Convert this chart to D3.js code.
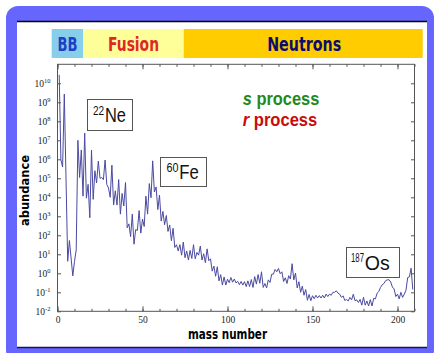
<!DOCTYPE html>
<html>
<head>
<meta charset="utf-8">
<script src="https://cdn.jsdelivr.net/npm/d3@7"></script>
<style>
  html, body { margin: 0; padding: 0; background: #fff; }
  svg { display: block; }
</style>
</head>
<body>
<svg id="chart" width="435" height="353"></svg>
<script>
// Solar-system abundance per mass number (normalised to Si = 1e6)
const massNumber = [
  1, 2, 3, 4, 6, 7, 9, 10, 11, 12, 13, 14, 15, 16, 17, 18, 19, 20,
  21, 22, 23, 24, 25, 26, 27, 28, 29, 30, 31, 32, 33, 34, 35, 36, 37, 38, 39, 40,
  41, 42, 43, 44, 45, 46, 47, 48, 49, 50, 51, 52, 53, 54, 55, 56, 57, 58, 59, 60,
  61, 62, 63, 64, 65, 66, 67, 68, 69, 70, 71, 72, 73, 74, 75, 76, 77, 78, 79, 80,
  81, 82, 83, 84, 85, 86, 87, 88, 89, 90, 91, 92, 93, 94, 95, 96, 97, 98, 99, 100,
  101, 102, 103, 104, 105, 106, 107, 108, 109, 110, 111, 112, 113, 114, 115, 116, 117, 118, 119, 120,
  121, 122, 123, 124, 125, 126, 127, 128, 129, 130, 131, 132, 133, 134, 135, 136, 137, 138, 139, 140,
  141, 142, 143, 144, 145, 146, 147, 148, 149, 150, 151, 152, 153, 154, 155, 156, 157, 158, 159, 160,
  161, 162, 163, 164, 165, 166, 167, 168, 169, 170, 171, 172, 173, 174, 175, 176, 177, 178, 179, 180,
  181, 182, 183, 184, 185, 186, 187, 188, 189, 190, 191, 192, 193, 194, 195, 196, 197, 198, 199, 200,
  201, 202, 203, 204, 205, 206, 207, 208, 209
];
const abundance = [
  2.79e10, 9.5e5, 3.9e5, 2.72e9, 4.3, 53, 0.73, 4.2, 17, 1.0e7, 1.1e5, 3.1e6, 1.15e4, 2.4e7, 9.0e3, 4.8e4, 840, 3.1e6,
  7.8e3, 2.5e5, 5.7e4, 8.0e5, 1.0e5, 1.1e5, 8.5e4, 9.2e5, 4.7e4, 3.1e4, 1.0e4, 4.9e5, 3.9e3, 2.2e4, 3.9e3, 8.6e4, 1.3e3, 1.6e4, 3.5e3, 6.0e4,
  250, 400, 85, 1.3e3, 34, 200, 180, 2.0e3, 130, 720, 290, 1.15e4, 1.3e3, 5.3e4, 9.5e3, 8.3e5, 1.9e4, 3.5e4, 2.25e3, 1.3e4,
  560, 1.8e3, 360, 1.1e3, 160, 350, 52, 235, 23, 32, 15, 32, 9, 44, 6.6, 15, 5, 16, 6, 32,
  5.8, 12.5, 9, 27, 5, 10.7, 3.6, 19.3, 4.6, 5.8, 1.3, 2.4, 0.7, 2.2, 0.4, 0.85, 0.24, 0.64, 0.24, 0.49,
  0.32, 0.6, 0.34, 0.5, 0.31, 0.38, 0.25, 0.37, 0.24, 0.36, 0.2, 0.4, 0.2, 0.47, 0.18, 0.67, 0.27, 0.86, 0.3, 1.2,
  0.18, 0.29, 0.17, 0.45, 0.33, 0.89, 0.9, 1.6, 1.2, 1.8, 0.95, 1.2, 0.37, 0.58, 0.29, 0.75, 0.5, 3.2, 0.45, 1.03,
  0.17, 0.36, 0.1, 0.21, 0.07, 0.14, 0.038, 0.077, 0.036, 0.066, 0.046, 0.07, 0.05, 0.067, 0.05, 0.07, 0.05, 0.08, 0.06, 0.08,
  0.07, 0.1, 0.1, 0.12, 0.09, 0.08, 0.054, 0.065, 0.037, 0.042, 0.035, 0.054, 0.04, 0.079, 0.036, 0.04, 0.029, 0.042, 0.021, 0.055,
  0.021, 0.035, 0.019, 0.041, 0.019, 0.048, 0.045, 0.09, 0.11, 0.18, 0.25, 0.29, 0.41, 0.45, 0.46, 0.35, 0.19, 0.15, 0.06, 0.08,
  0.045, 0.1, 0.054, 0.08, 0.13, 0.6, 0.65, 1.85, 0.14
];

const xMajorTicks = [0, 50, 100, 150, 200];
const xMinorTicks = d3.range(0, 211, 10);
const yTickExponents = d3.range(-2, 11);

const stageNames = ["BB", "Fusion", "Neutrons"];
const stageFills = ["#87ceeb", "#ffff99", "#ffcc00"];
const stageInk = ["#1f3fc4", "#e02626", "#0c0c6c"];

const isotopeMass = ["22", "60", "187"];
const isotopeElement = ["Ne", "Fe", "Os"];
const processNames = ["s", "r"];
const processInk = ["#1e8a1e", "#c80c0c"];

const svg = d3.select("#chart");
const rounded = "'DejaVu Sans', sans-serif";
const arial = "'Liberation Sans', Arial, sans-serif";
const serif = "'Liberation Serif', 'Times New Roman', serif";

// ---- slide frame ----
svg.append("rect").attr("width", 435).attr("height", 353).attr("fill", "#fff");
svg.append("rect")
  .attr("x", 6).attr("y", 6).attr("width", 428).attr("height", 356)
  .attr("rx", 12).attr("fill", "#6666ff");
svg.append("rect")
  .attr("x", 17).attr("y", 21).attr("width", 410).attr("height", 326)
  .attr("fill", "#fff");
svg.append("line").attr("x1", 17).attr("x2", 427).attr("y1", 21.5).attr("y2", 21.5)
  .attr("stroke", "#000").attr("stroke-width", 1.5);
svg.append("line").attr("x1", 17).attr("x2", 427).attr("y1", 347.5).attr("y2", 347.5)
  .attr("stroke", "#14145a").attr("stroke-width", 1.5);

// ---- nucleosynthesis stage banner ----
const stageEdges = [51.7, 83.3, 183.7, 422.7];
const stageTextWidth = [20, 51, 74];
const banner = svg.append("g");
stageNames.forEach((name, i) => {
  const x0 = stageEdges[i], x1 = stageEdges[i + 1];
  banner.append("rect")
    .attr("x", x0).attr("y", 29).attr("width", x1 - x0).attr("height", 29)
    .attr("fill", stageFills[i]);
  banner.append("text")
    .attr("x", (x0 + x1) / 2 + (i === 2 ? 1 : 0)).attr("y", 50.5)
    .attr("text-anchor", "middle")
    .attr("font-family", rounded).attr("font-size", 19).attr("font-weight", 700)
    .attr("fill", stageInk[i])
    .attr("textLength", stageTextWidth[i]).attr("lengthAdjust", "spacingAndGlyphs")
    .text(name);
});

// ---- scales ----
const x = d3.scaleLinear().domain([0, 210]).range([57.5, 414.5]);
const y = d3.scaleLog().domain([1e-2, 1e11]).range([311.3, 64.3]);
const axisInk = "#555";
const [plotLeft, plotRight] = x.range();
const [plotBottom, plotTop] = y.range();

function styleAxis(g) {
  g.select(".domain").remove();
  g.selectAll(".tick line").attr("stroke", axisInk).attr("stroke-width", 1);
}

// bottom: minor + major ticks, pointing inward
svg.append("g").attr("transform", `translate(0,${plotBottom})`)
  .call(d3.axisBottom(x).tickValues(xMinorTicks).tickSize(-2.5).tickFormat(""))
  .call(styleAxis);
const gBottom = svg.append("g").attr("transform", `translate(0,${plotBottom})`)
  .call(d3.axisBottom(x).tickValues(xMajorTicks).tickSize(-5).tickPadding(4.5).tickFormat(d3.format("d")))
  .call(styleAxis);
gBottom.selectAll(".tick text")
  .attr("font-family", serif).attr("font-size", 9.5).attr("fill", "#222");

// top: mirrored ticks
svg.append("g").attr("transform", `translate(0,${plotTop})`)
  .call(d3.axisTop(x).tickValues(xMinorTicks).tickSize(-2.5).tickFormat(""))
  .call(styleAxis);
svg.append("g").attr("transform", `translate(0,${plotTop})`)
  .call(d3.axisTop(x).tickValues(xMajorTicks).tickSize(-5).tickFormat(""))
  .call(styleAxis);

// left: decades with 10^n labels
const decades = yTickExponents.map(e => Math.pow(10, e));
const gLeft = svg.append("g").attr("transform", `translate(${plotLeft},0)`)
  .call(d3.axisLeft(y).tickValues(decades).tickSize(-3.5).tickPadding(7).tickFormat(""))
  .call(styleAxis);
gLeft.selectAll(".tick text")
  .attr("font-family", serif).attr("font-size", 9.5).attr("fill", "#222")
  .attr("dy", "0.34em")
  .each(function(d) {
    const t = d3.select(this);
    const e = Math.round(Math.log10(d));
    t.append("tspan").text("10");
    t.append("tspan").attr("dy", -3.8).attr("font-size", 6.5)
      .text(e < 0 ? "-" + Math.abs(e) : String(e));
  });

// right: mirrored decade ticks
svg.append("g").attr("transform", `translate(${plotRight},0)`)
  .call(d3.axisRight(y).tickValues(decades).tickSize(-3.5).tickFormat(""))
  .call(styleAxis);

// plot frame
svg.append("rect")
  .attr("x", plotLeft).attr("y", plotTop).attr("width", plotRight - plotLeft).attr("height", plotBottom - plotTop)
  .attr("fill", "none").attr("stroke", axisInk).attr("stroke-width", 1);

// ---- abundance curve ----
const points = massNumber.map((a, i) => ({ a, v: abundance[i] }));
svg.append("clipPath").attr("id", "plotClip")
  .append("rect").attr("x", plotLeft).attr("y", plotTop).attr("width", plotRight - plotLeft).attr("height", plotBottom - plotTop);
svg.append("path")
  .datum(points)
  .attr("clip-path", "url(#plotClip)")
  .attr("fill", "none")
  .attr("stroke", "#4a4aa2")
  .attr("stroke-width", 1)
  .attr("stroke-linejoin", "round")
  .attr("d", d3.line().x(d => x(d.a)).y(d => y(d.v)));

// ---- axis titles ----
svg.append("text")
  .attr("x", 227.5).attr("y", 339)
  .attr("text-anchor", "middle")
  .attr("font-family", rounded).attr("font-size", 13.5).attr("font-weight", 700)
  .attr("fill", "#000")
  .attr("textLength", 79).attr("lengthAdjust", "spacingAndGlyphs")
  .text("mass number");
svg.append("text")
  .attr("transform", "translate(28.5,190.5) rotate(-90)")
  .attr("text-anchor", "middle")
  .attr("font-family", rounded).attr("font-size", 12.5).attr("font-weight", 700)
  .attr("fill", "#000")
  .attr("textLength", 71).attr("lengthAdjust", "spacingAndGlyphs")
  .text("abundance");

// ---- isotope callouts: mass number raised as a superscript ----
// Each piece is squeezed horizontally to its width with a scale transform.
function squeezedText(str, px, baseline, width, size) {
  const t = svg.append("text")
    .attr("font-family", arial).attr("font-size", size).attr("fill", "#111")
    .text(str);
  const natural = t.node().getComputedTextLength();
  t.attr("transform", `translate(${px},${baseline}) scale(${width / natural},1)`);
  return t;
}
const calloutBoxes = [[87, 99, 132, 130], [160, 157, 206, 186], [346, 247, 399, 277]];
const calloutSupX = [93, 166.5, 351];
const calloutSupW = [11.2, 12, 13];
const calloutElW = [21, 19.5, 25];
const calloutBase = [122.3, 179, 269.5];
isotopeElement.forEach((el, i) => {
  const [x0, y0, x1, y1] = calloutBoxes[i];
  svg.append("rect")
    .attr("x", x0 + 0.5).attr("y", y0 + 0.5).attr("width", x1 - x0).attr("height", y1 - y0)
    .attr("fill", "#fff").attr("stroke", "#555").attr("stroke-width", 1);
  squeezedText(isotopeMass[i], calloutSupX[i], calloutBase[i] - 7.5, calloutSupW[i], 12);
  squeezedText(el, calloutSupX[i] + calloutSupW[i] + 0.8, calloutBase[i], calloutElW[i], 21);
});

// ---- process legend ----
const processBase = [105, 125.5];
const processWidth = [76.6, 74.6];
processNames.forEach((p, i) => {
  const t = svg.append("text")
    .attr("x", 242.7).attr("y", processBase[i])
    .attr("font-family", arial).attr("font-size", 19).attr("font-weight", "bold")
    .attr("fill", processInk[i])
    .attr("textLength", processWidth[i]).attr("lengthAdjust", "spacingAndGlyphs");
  t.append("tspan").attr("font-style", "italic").text(p);
  t.append("tspan").text(" process");
});
</script>
</body>
</html>
